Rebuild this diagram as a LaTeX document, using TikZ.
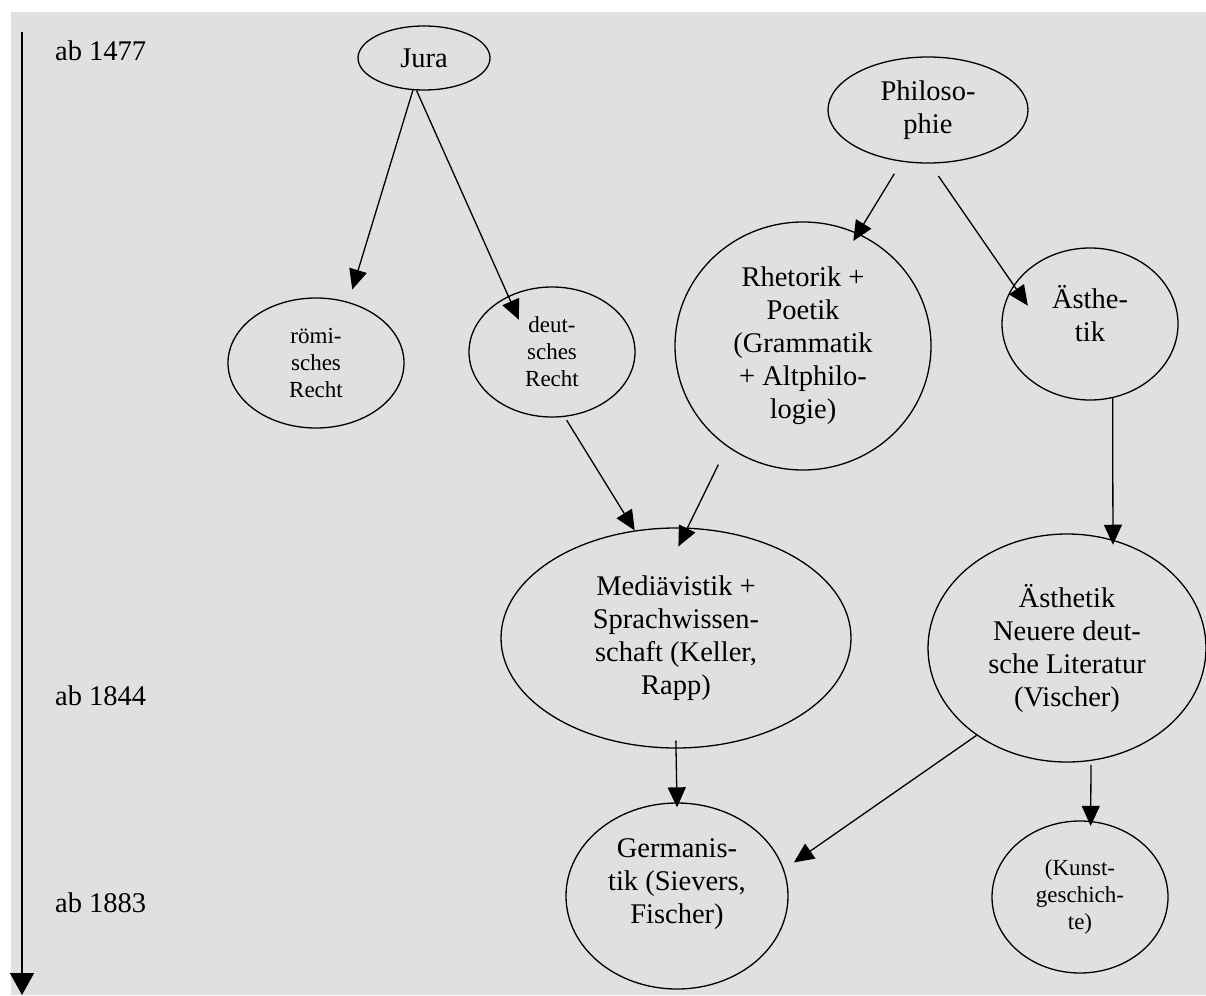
\documentclass[tikz,border=0pt]{standalone}
\usepackage{fontspec}
\setmainfont{Liberation Serif}
\usetikzlibrary{shapes.geometric,arrows.meta}
\definecolor{hintergrund}{RGB}{224,224,224}
\begin{document}
\begin{tikzpicture}[x=1pt, y=-1pt,
  every node/.style={font=\fontsize{28.5}{33}\selectfont, align=center, inner sep=0pt},
  fach/.style={draw=black, ellipse, line width=1.3pt},
  klein/.style={font=\fontsize{23}{27}\selectfont},
  pfeil/.style={-{Triangle[length=20pt,width=18pt]}, line width=1.3pt}]
  \useasboundingbox (0,0) rectangle (1206,995);
  \fill[white] (0,0) rectangle (1206,995);
  \fill[hintergrund] (11,12) rectangle (1206,995);
  \coordinate (zeitoben) at (22,32);
  \coordinate (zeitunten) at (22,995);
  \draw[pfeil, -{Triangle[length=22pt,width=24pt]}] (zeitoben) -- (zeitunten);
  \node[anchor=base west] (z1477) at (55,61) {ab 1477};
  \node[anchor=base west] (z1844) at (55,705) {ab 1844};
  \node[anchor=base west] (z1883) at (55,912) {ab 1883};

  \node[fach, minimum width=132pt, minimum height=64pt] (jura) at (424,58) {Jura};
  \node[fach, minimum width=200pt, minimum height=106pt] (phil) at (928,110) {Philoso-\\phie};
  \node[fach, klein, minimum width=176pt, minimum height=130pt] (roem) at (316,363) {römi-\\sches\\Recht};
  \node[fach, klein, minimum width=166pt, minimum height=130pt] (deut) at (552,352) {deut-\\sches\\Recht};
  \node[fach, minimum width=256pt, minimum height=248pt] (rhet) at (803,346) {Rhetorik +\\Poetik\\(Grammatik\\+ Altphilo-\\logie)};
  \node[fach, minimum width=176pt, minimum height=152pt] (aest) at (1090,324) {Ästhe-\\tik\\[-11pt]\mbox{}};
  \node[fach, minimum width=350pt, minimum height=220pt] (med) at (676,638) {Mediävistik +\\Sprachwissen-\\schaft (Keller,\\Rapp)};
  \node[fach, minimum width=278pt, minimum height=228pt] (aneu) at (1067,648) {Ästhetik\\Neuere deut-\\sche Literatur\\(Vischer)};
  \node[fach, minimum width=222pt, minimum height=186pt] (germ) at (677,896) {Germanis-\\tik (Sievers,\\Fischer)\\[-3pt]\mbox{}};
  \node[fach, klein, minimum width=176pt, minimum height=152pt] (kunst) at (1080,897) {(Kunst-\\geschich-\\te)};

  \draw[pfeil, shorten >=13pt] (jura.251) -- (roem.62);
  \draw[pfeil, shorten >=-26pt] (jura.257) -- (deut.128);
  \draw[pfeil, shorten <=14pt, shorten >=-9pt] (phil.243) -- (rhet.64);
  \draw[pfeil, shorten <=15pt, shorten >=-25pt] (phil.272) -- (aest.153);
  \draw[pfeil, shorten <=4pt] (deut.281) -- (med.111);
  \draw[pfeil, shorten <=20pt, shorten >=-21pt] (rhet.233) -- (med.84);
  \draw[pfeil, shorten >=-5pt] (aest.287) -- (aneu.67);
  \draw[pfeil, shorten <=-8pt, shorten >=-5pt] (med.south) -- (germ.north);
  \draw[pfeil, shorten >=12pt] (aneu.224) -- (germ.14);
  \draw[pfeil, shorten <=4pt, shorten >=-5pt] (aneu.282) -- (kunst.82);
\end{tikzpicture}
\end{document}
